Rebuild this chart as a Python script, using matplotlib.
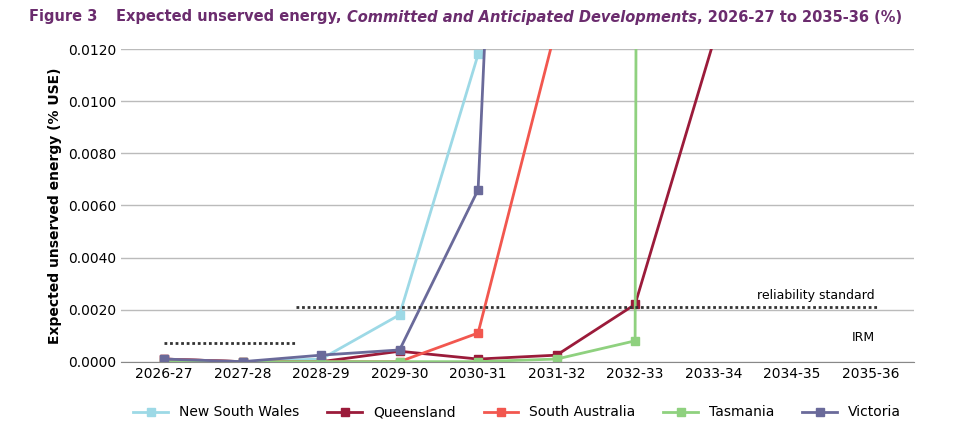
import numpy as np
import matplotlib.pyplot as plt

years = ["2026-27", "2027-28", "2028-29", "2029-30", "2030-31",
         "2031-32", "2032-33", "2033-34", "2034-35", "2035-36"]
nan = np.nan
nsw = [0.0001, 0.0, 0.0001, 0.0018, 0.0118, nan, nan, nan, nan, nan]
qld = [0.0001, 0.0, 0.0, 0.0004, 0.0001, 0.00025, 0.0022, 0.0123, 0.03, 0.05]
sa = [0.0001, 0.0, 0.0, 0.0, 0.0011, 0.0129, 0.03, 0.05, 0.07, 0.09]
tas = [0.0, 0.0, 0.0, 0.0, 0.0, 0.0001, 0.0008, 1.0, 1.0, 1.0]
vic = [0.0001, 0.0, 0.00025, 0.00045, 0.0066, 0.074, 0.1, 0.1, 0.1, 0.1]

series = [("New South Wales", nsw, "#9dd9e6"), ("Queensland", qld, "#9b1b3a"),
          ("South Australia", sa, "#f2574f"), ("Tasmania", tas, "#8fd17f"),
          ("Victoria", vic, "#6a6a9a")]

fig = plt.figure(figsize=(9.67, 4.28), dpi=100)
ax = fig.add_axes([0.125, 0.155, 0.82, 0.73])
x = np.arange(len(years))
for name, vals, c in series:
    ax.plot(x, vals, color=c, lw=2, marker="s", ms=6, label=name)

ax.plot([0, 1.68], [0.0007, 0.0007], ls=(0, (1, 1)), color="#333333", lw=2)
ax.plot([1.68, 9.1], [0.0021, 0.0021], ls=(0, (1, 1)), color="#333333", lw=2)
ax.text(9.05, 0.0024, "reliability standard", ha="right", fontsize=9)
ax.text(9.05, 0.0008, "IRM", ha="right", fontsize=9)

ax.set_xlim(-0.55, 9.55)
ax.set_ylim(0, 0.012)
ax.set_yticks(np.arange(0, 0.0121, 0.002))
ax.set_yticklabels([f"{v:.4f}" for v in np.arange(0, 0.0121, 0.002)])
ax.set_xticks(x)
ax.set_xticklabels(years)
ax.tick_params(labelsize=10, length=0)
ax.grid(axis="y", color="#bbbbbb", lw=1)
ax.set_axisbelow(True)
for s in ["top", "right", "left"]:
    ax.spines[s].set_visible(False)
ax.spines["bottom"].set_color("#888888")
ax.set_ylabel("Expected unserved energy (% USE)", fontsize=10, fontweight="bold")
ax.legend(loc="upper center", bbox_to_anchor=(0.5, -0.1), ncol=5, frameon=False,
          fontsize=10, handlelength=2.5)

# title pieces placed one after another
purple = "#6b2c6e"
fig.text(0.03, 0.95, "Figure 3", color=purple, fontsize=10.5, fontweight="bold")
t1 = fig.text(0.12, 0.95, "Expected unserved energy, ", color=purple, fontsize=10.5, fontweight="bold")
t2 = fig.text(0, 0, "Committed and Anticipated Developments", color=purple, fontsize=10.5,
              fontweight="bold", style="italic", transform=None)
fig.canvas.draw()
r = fig.canvas.get_renderer()
b1 = t1.get_window_extent(r)
t2.set_position((b1.x1, b1.y0 + 2))
fig.canvas.draw()
b2 = t2.get_window_extent(r)
fig.text(b2.x1, b1.y0 + 2, ", 2026-27 to 2035-36 (%)", color=purple, fontsize=10.5,
         fontweight="bold", transform=None)
fig.savefig("out.png")
